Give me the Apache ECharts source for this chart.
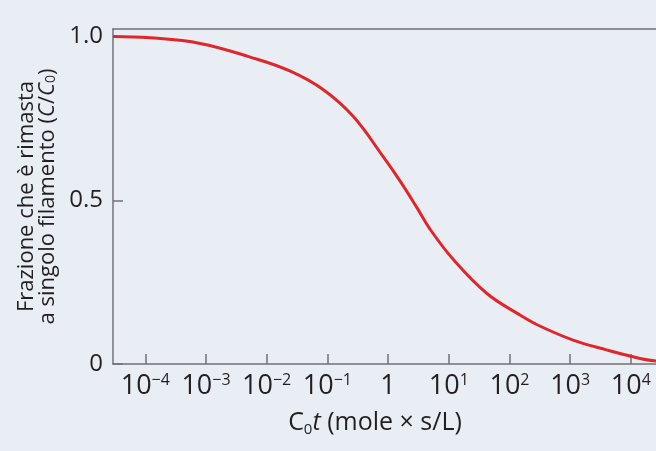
<!DOCTYPE html>
<html style="height: 100%">
<head>
<meta charset="utf-8">
</head>
<body style="height: 100%; margin: 0; background: #e9eef5">
	<div id="container" style="width: 656px; height: 451px"></div>
	<script type="text/javascript" src="https://cdn.jsdelivr.net/npm/echarts@6/dist/echarts.min.js"></script>
	<script type="text/javascript">
		// C0t values (mole x s/L)
		var c0t = [2.95e-5, 1.2e-4, 8.0e-4, 5.2e-3, 0.024, 0.087, 0.27, 0.83, 1.57,
			2.95, 4.9, 12, 42, 148, 316, 1120, 3980, 14100, 26000];
		// fraction left single stranded (C/C0)
		var fraction = [1.0, 0.996, 0.979, 0.938, 0.895, 0.837, 0.755, 0.633, 0.559,
			0.479, 0.412, 0.318, 0.216, 0.150, 0.116, 0.073, 0.043, 0.017, 0.009];
		var yTicks = [0, 0.5, 1.0];

		var dom = document.getElementById("container");
		var myChart = echarts.init(dom);
		var font = '"Open Sans", "Noto Sans", sans-serif';
		var ink = '#231f20';
		var axisGrey = '#707276';

		var points = [];
		for (var i = 0; i < c0t.length; i++) {
			points.push([c0t[i], fraction[i]]);
		}

		function sup(n) {
			return String(n).replace('-', '\u2212');
		}

		var option = {
			backgroundColor: '#e9eef5',
			animation: false,
			grid: {
				left: 113,
				right: 0,
				top: 29,
				bottom: 87
			},
			xAxis: [{
				type: 'log',
				logBase: 10,
				min: Math.pow(10, -4.532),
				max: Math.pow(10, 4.414),
				splitNumber: 9,
				name: '{nb|C}{ns|0}{ni|t}{nb| (mole \u00d7 s/L)}',
				nameLocation: 'middle',
				nameGap: 45,
				nameTextStyle: {
					fontSize: 25,
					color: ink,
					padding: [0, 19, 0, 0],
					rich: {
						nb: { fontSize: 25, color: ink, fontFamily: font, lineHeight: 28 },
						ni: { fontSize: 25, color: ink, fontFamily: font, fontStyle: 'italic', lineHeight: 28 },
						ns: { fontSize: 15, color: ink, fontFamily: font, verticalAlign: 'bottom', lineHeight: 22 }
					}
				},
				axisLine: { lineStyle: { color: axisGrey, width: 1.5 } },
				axisTick: { inside: true, length: 10, lineStyle: { color: axisGrey, width: 1.5 } },
				splitLine: { show: false },
				axisLabel: {
					margin: 8,
					fontSize: 27,
					fontFamily: font,
					color: ink,
					showMinLabel: false,
					showMaxLabel: false,
					formatter: function (v) {
						var e = Math.round(Math.log(v) / Math.LN10);
						if (e === 0) return '{base|1}';
						return '{base|10}{pow|' + sup(e) + '}';
					},
					rich: {
						base: { fontSize: 27, fontFamily: font, color: ink, lineHeight: 29 },
						pow: { fontSize: 16, fontFamily: font, color: ink, verticalAlign: 'top', lineHeight: 18 }
					}
				}
			}, {
				// top frame line only
				type: 'value',
				position: 'top',
				min: 0,
				max: 1,
				axisLine: { show: true, onZero: false, lineStyle: { color: axisGrey, width: 1.5 } },
				axisTick: { show: false },
				axisLabel: { show: false },
				splitLine: { show: false }
			}],
			yAxis: {
				type: 'value',
				min: 0,
				max: 1.023,
				interval: 0.5,
				name: '{nb|Frazione che \u00e8 rimasta}\n{nb|a singolo filamento (}{ni|C}{nb|/}{ni|C}{ns|0}{nb|)}',
				nameLocation: 'middle',
				nameRotate: 90,
				nameGap: 42,
				nameTextStyle: {
					fontSize: 22,
					color: ink,
					rich: {
						nb: { fontSize: 22, color: ink, fontFamily: font, lineHeight: 21 },
						ni: { fontSize: 22, color: ink, fontFamily: font, fontStyle: 'italic', lineHeight: 21 },
						ns: { fontSize: 14, color: ink, fontFamily: font, verticalAlign: 'bottom', lineHeight: 17 }
					}
				},
				axisLine: { show: true, lineStyle: { color: axisGrey, width: 1.5 } },
				axisTick: { show: true, inside: true, length: 10, lineStyle: { color: axisGrey, width: 1.5 } },
				splitLine: { show: false },
				axisLabel: {
					margin: 10,
					fontSize: 24,
					fontFamily: font,
					color: ink,
					showMaxLabel: false,
					formatter: function (v) {
						for (var k = 0; k < yTicks.length; k++) {
							if (Math.abs(v - yTicks[k]) < 1e-6) {
								return v === 0 ? '0' : v.toFixed(1);
							}
						}
						return '';
					}
				}
			},
			series: [{
				type: 'line',
				data: points,
				smooth: 0.4,
				showSymbol: false,
				clip: true,
				lineStyle: { color: '#e0262b', width: 3 }
			}]
		};
		myChart.setOption(option, true);
	</script>
</body>
</html>
